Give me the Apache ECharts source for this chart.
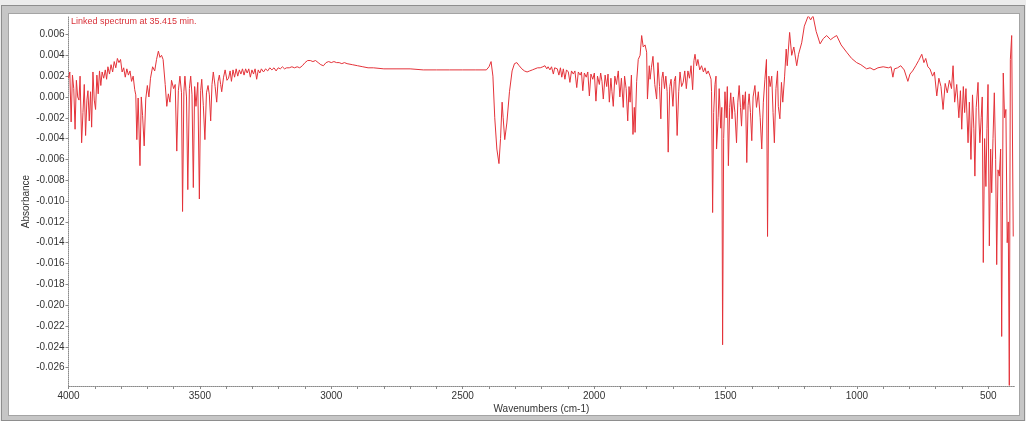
<!DOCTYPE html>
<html>
<head>
<meta charset="utf-8">
<title>Linked spectrum at 35.415 min.</title>
<script src="https://cdn.jsdelivr.net/npm/echarts@6/dist/echarts.min.js"></script>
<style>
  html, body { margin: 0; padding: 0; width: 1026px; height: 421px; overflow: hidden; background: #ececec; }
  #frame { position: absolute; left: 1px; top: 5px; width: 1022px; height: 414px; background: #c6c6c6; border: 1px solid #8e8e8e; }
  #panel { position: absolute; left: 8px; top: 13px; width: 1010px; height: 401px; background: #fff; border: 1px solid #a4a4a4; }
  #chart { position: absolute; left: 0; top: 0; width: 1026px; height: 421px; }
</style>
</head>
<body>
<div id="frame"></div>
<div id="panel"></div>
<div id="chart"></div>
<script>
// Axis ticks and labels
const yTicks = [-0.026, -0.024, -0.022, -0.020, -0.018, -0.016, -0.014, -0.012, -0.010, -0.008, -0.006, -0.004, -0.002, 0.000, 0.002, 0.004, 0.006];
const xTicks = [4000, 3500, 3000, 2500, 2000, 1500, 1000, 500];
const xMinorTicks = [4000, 3900, 3800, 3700, 3600, 3500, 3400, 3300, 3200, 3100, 3000, 2900, 2800, 2700, 2600, 2500, 2400, 2300, 2200, 2100, 2000, 1900, 1800, 1700, 1600, 1500, 1400, 1300, 1200, 1100, 1000, 900, 800, 700, 600, 500];

// Spectrum: wavenumbers (cm-1) and absorbance
const wavenumbers = [
  4000, 3995, 3990, 3985, 3980, 3975, 3970, 3965, 3960, 3956, 3950, 3945, 3940, 3935, 3930, 3926, 3921, 3916, 3912, 3907,
  3902, 3897, 3892, 3887, 3882, 3877, 3872, 3866, 3860, 3855, 3850, 3844, 3838, 3832, 3826, 3820, 3814, 3808, 3802, 3796,
  3790, 3784, 3778, 3772, 3766, 3760, 3754, 3748, 3744, 3740, 3735, 3728, 3723, 3718, 3712, 3706, 3700, 3694, 3688, 3680,
  3672, 3665, 3658, 3652, 3646, 3640, 3632, 3626, 3620, 3614, 3608, 3600, 3594, 3588, 3582, 3576, 3570, 3566, 3561, 3557,
  3551, 3546, 3540, 3535, 3530, 3525, 3520, 3515, 3508, 3502, 3497, 3493, 3487, 3481, 3475, 3469, 3464, 3459, 3454, 3449,
  3442, 3436, 3431, 3426, 3421, 3417, 3410, 3404, 3397, 3391, 3385, 3380, 3374, 3368, 3362, 3356, 3350, 3344, 3338, 3332,
  3326, 3320, 3314, 3308, 3302, 3296, 3290, 3284, 3278, 3272, 3266, 3258, 3250, 3242, 3234, 3226, 3218, 3210, 3202, 3194,
  3186, 3178, 3170, 3160, 3150, 3140, 3130, 3120, 3110, 3100, 3090, 3080, 3070, 3060, 3050, 3040, 3030, 3020, 3010, 3000,
  2990, 2980, 2970, 2960, 2950, 2940, 2920, 2900, 2880, 2860, 2840, 2800, 2750, 2700, 2650, 2600, 2550, 2500, 2450, 2410,
  2400, 2392, 2385, 2378, 2370, 2362, 2356, 2350, 2346, 2340, 2332, 2322, 2312, 2303, 2294, 2285, 2275, 2265, 2255, 2245,
  2235, 2225, 2215, 2205, 2195, 2187, 2180, 2175, 2168, 2162, 2155, 2150, 2140, 2134, 2128, 2123, 2117, 2111, 2105, 2098,
  2092, 2086, 2079, 2073, 2066, 2060, 2053, 2048, 2043, 2037, 2030, 2024, 2018, 2012, 2005, 1999, 1993, 1987, 1980, 1975,
  1970, 1965, 1958, 1952, 1947, 1942, 1936, 1932, 1927, 1921, 1915, 1908, 1902, 1896, 1889, 1884, 1878, 1872, 1867, 1863,
  1858, 1852, 1847, 1844, 1838, 1832, 1825, 1819, 1813, 1806, 1800, 1797, 1790, 1787, 1782, 1776, 1769, 1762, 1757, 1751,
  1746, 1742, 1738, 1732, 1727, 1722, 1718, 1712, 1707, 1700, 1695, 1690, 1684, 1678, 1673, 1667, 1661, 1655, 1649, 1643,
  1637, 1631, 1625, 1620, 1616, 1610, 1605, 1598, 1591, 1584, 1578, 1572, 1566, 1560, 1555, 1553, 1549, 1545, 1540, 1536,
  1534, 1528, 1524, 1518, 1514, 1511, 1507, 1502, 1497, 1493, 1489, 1484, 1480, 1475, 1470, 1464, 1458, 1453, 1448, 1443,
  1439, 1434, 1430, 1424, 1419, 1414, 1410, 1405, 1400, 1395, 1388, 1382, 1375, 1368, 1362, 1356, 1350, 1344, 1340, 1335,
  1330, 1324, 1319, 1314, 1308, 1302, 1299, 1293, 1287, 1282, 1275, 1269, 1265, 1256, 1248, 1240, 1229, 1222, 1210, 1200,
  1185, 1176, 1167, 1155, 1140, 1128, 1115, 1100, 1090, 1077, 1060, 1039, 1020, 1001, 985, 963, 950, 935, 920, 900,
  880, 870, 863, 857, 845, 833, 820, 806, 798, 788, 776, 765, 753, 745, 738, 730, 722, 712, 705, 696,
  688, 680, 672, 664, 656, 648, 640, 634, 628, 620, 612, 606, 601, 595, 590, 585, 577, 572, 566, 560,
  555, 551, 546, 539, 535, 532, 527, 523, 519, 514, 509, 505, 501, 496, 491, 487, 482, 477, 472, 468,
  463, 458, 453, 449, 446, 443, 438, 433, 428, 424, 420, 416, 411, 405
];
const absorbance = [
  0.0018, 0.0024, -0.0024, 0.0021, 0.0008, -0.0031, 0.0016, 0.0000, -0.0003, 0.0020, -0.0044, -0.0015, 0.0012, -0.0037, -0.0003, 0.0006, -0.0023, 0.0005, -0.0029, 0.0024,
  -0.0003, -0.0012, 0.0021, 0.0003, 0.0025, 0.0011, 0.0024, 0.0018, 0.0026, 0.0017, 0.0029, 0.0022, 0.0031, 0.0024, 0.0034, 0.0028, 0.0037, 0.0033, 0.0036, 0.0024,
  0.0028, 0.0019, 0.0027, 0.0021, 0.0025, 0.0015, 0.0020, 0.0007, 0.0002, -0.0041, -0.0001, -0.0066, 0.0000, -0.0018, -0.0047, -0.0002, 0.0011, 0.0000, 0.0018, 0.0029,
  0.0025, 0.0036, 0.0044, 0.0038, 0.0040, 0.0036, 0.0012, -0.0009, 0.0003, -0.0005, 0.0016, 0.0008, 0.0012, -0.0052, 0.0006, 0.0020, 0.0004, -0.0110, 0.0005, 0.0020,
  0.0000, -0.0089, 0.0008, 0.0020, 0.0002, -0.0087, 0.0010, -0.0009, 0.0014, -0.0098, 0.0006, 0.0017, -0.0008, -0.0041, 0.0004, 0.0011, 0.0002, -0.0023, 0.0012, 0.0024,
  0.0010, -0.0005, 0.0015, 0.0021, 0.0012, 0.0005, 0.0019, 0.0026, 0.0016, 0.0018, 0.0025, 0.0015, 0.0026, 0.0019, 0.0027, 0.0020, 0.0026, 0.0022, 0.0027, 0.0021,
  0.0027, 0.0023, 0.0027, 0.0019, 0.0026, 0.0022, 0.0027, 0.0017, 0.0026, 0.0023, 0.0027, 0.0024, 0.0027, 0.0025, 0.0028, 0.0026, 0.0028, 0.0025, 0.0028, 0.0027,
  0.0029, 0.0027, 0.0028, 0.0028, 0.0029, 0.0028, 0.0029, 0.0028, 0.0030, 0.0033, 0.0035, 0.0035, 0.0034, 0.0035, 0.0033, 0.0031, 0.0030, 0.0033, 0.0034, 0.0033,
  0.0034, 0.0033, 0.0033, 0.0032, 0.0033, 0.0032, 0.0031, 0.0030, 0.0029, 0.0028, 0.0028, 0.0027, 0.0027, 0.0027, 0.0026, 0.0026, 0.0026, 0.0026, 0.0026, 0.0026,
  0.0029, 0.0034, 0.0020, -0.0020, -0.0050, -0.0064, -0.0040, -0.0005, -0.0020, -0.0041, -0.0025, 0.0005, 0.0025, 0.0032, 0.0033, 0.0030, 0.0027, 0.0025, 0.0024, 0.0025,
  0.0026, 0.0027, 0.0028, 0.0028, 0.0029, 0.0030, 0.0027, 0.0029, 0.0026, 0.0029, 0.0022, 0.0028, 0.0027, 0.0021, 0.0028, 0.0019, 0.0027, 0.0017, 0.0026, 0.0024,
  0.0014, 0.0025, 0.0022, 0.0025, 0.0009, 0.0024, 0.0021, 0.0024, 0.0006, 0.0023, 0.0019, 0.0024, 0.0001, 0.0022, 0.0017, 0.0023, -0.0004, 0.0020, 0.0012, 0.0023,
  0.0015, -0.0002, 0.0021, 0.0010, 0.0022, -0.0005, 0.0018, 0.0005, -0.0009, 0.0020, 0.0012, 0.0025, 0.0000, 0.0018, -0.0010, 0.0020, 0.0008, -0.0023, 0.0010, -0.0005,
  0.0021, -0.0036, -0.0010, -0.0034, 0.0015, 0.0036, 0.0040, 0.0059, 0.0048, 0.0050, 0.0043, -0.0002, 0.0030, 0.0017, 0.0028, 0.0039, 0.0012, -0.0002, 0.0033, 0.0010,
  -0.0021, 0.0018, 0.0024, 0.0008, 0.0020, 0.0005, -0.0053, 0.0010, 0.0017, -0.0009, 0.0015, 0.0020, -0.0037, 0.0005, 0.0024, 0.0010, 0.0014, 0.0025, 0.0008, 0.0025,
  0.0018, 0.0030, 0.0007, 0.0035, 0.0041, 0.0030, 0.0036, 0.0026, 0.0030, 0.0024, 0.0028, 0.0022, 0.0025, 0.0021, 0.0017, 0.0005, -0.0111, -0.0015, 0.0012, 0.0020,
  -0.0050, -0.0020, 0.0008, -0.0030, -0.0010, -0.0238, -0.0040, 0.0005, -0.0020, 0.0010, -0.0066, -0.0010, 0.0004, -0.0021, 0.0000, -0.0015, -0.0044, -0.0005, 0.0011, -0.0010,
  -0.0028, 0.0002, -0.0012, 0.0005, -0.0063, -0.0008, 0.0003, -0.0015, -0.0042, 0.0000, 0.0011, -0.0010, 0.0005, -0.0020, -0.0050, -0.0005, 0.0017, 0.0036, -0.0134, 0.0020,
  0.0010, 0.0020, -0.0015, -0.0044, 0.0008, 0.0025, -0.0009, -0.0021, 0.0014, -0.0005, 0.0020, 0.0046, 0.0030, 0.0062, 0.0040, 0.0048, 0.0030, 0.0041, 0.0052, 0.0068,
  0.0078, 0.0074, 0.0078, 0.0063, 0.0051, 0.0056, 0.0059, 0.0055, 0.0057, 0.0059, 0.0050, 0.0043, 0.0037, 0.0033, 0.0031, 0.0027, 0.0028, 0.0026, 0.0028, 0.0029,
  0.0028, 0.0029, 0.0019, 0.0027, 0.0028, 0.0030, 0.0026, 0.0015, 0.0022, 0.0025, 0.0030, 0.0035, 0.0041, 0.0033, 0.0037, 0.0029, 0.0027, 0.0020, 0.0024, 0.0001,
  0.0018, 0.0010, -0.0012, 0.0013, 0.0004, 0.0016, 0.0008, 0.0030, -0.0005, 0.0012, -0.0020, 0.0006, -0.0031, 0.0010, -0.0015, 0.0008, -0.0044, -0.0005, -0.0060, 0.0002,
  -0.0030, -0.0076, -0.0010, 0.0014, -0.0025, -0.0044, -0.0020, 0.0000, -0.0159, -0.0040, -0.0086, -0.0030, 0.0012, -0.0143, -0.0050, -0.0092, -0.0040, 0.0004, -0.0060, -0.0161,
  -0.0070, -0.0076, -0.0050, -0.0230, -0.0100, 0.0023, -0.0020, -0.0012, -0.0140, -0.0120, -0.0277, 0.0036, 0.0059, -0.0134
];

const points = wavenumbers.map((w, i) => [w, absorbance[i]]);

const chart = echarts.init(document.getElementById('chart'), null, { renderer: 'canvas' });
const axisGrey = '#8a8a8a';
const labelStyle = { color: '#333', fontSize: 10, fontFamily: 'Liberation Sans, Arial, sans-serif' };

chart.setOption({
  animation: false,
  backgroundColor: 'transparent',
  title: {
    text: 'Linked spectrum at 35.415 min.',
    left: 66,
    top: 12,
    textStyle: { color: '#d8323a', fontSize: 9, fontWeight: 'normal', fontFamily: 'Liberation Sans, Arial, sans-serif' }
  },
  grid: { left: 68.5, right: 11.7, top: 17, bottom: 35, containLabel: false },
  xAxis: {
    type: 'value',
    inverse: true,
    min: 401,
    max: 4000,
    name: 'Wavenumbers (cm-1)',
    nameLocation: 'middle',
    nameGap: 18,
    nameMoveOverlap: false,
    nameTextStyle: labelStyle,
    axisLine: { show: true, onZero: false, lineStyle: { color: axisGrey, width: 1, type: [1, 1] } },
    axisTick: { show: true, length: 3, lineStyle: { color: axisGrey }, customValues: xMinorTicks },
    axisLabel: { ...labelStyle, margin: 5, customValues: xTicks, formatter: v => String(v) },
    splitLine: { show: false }
  },
  yAxis: {
    type: 'value',
    min: -0.02776,
    max: 0.00768,
    name: 'Absorbance',
    nameLocation: 'middle',
    nameGap: 37,
    nameMoveOverlap: false,
    nameTextStyle: labelStyle,
    axisLine: { show: true, onZero: false, lineStyle: { color: axisGrey, width: 1, type: [1, 1] } },
    axisTick: { show: true, length: 3, lineStyle: { color: axisGrey }, customValues: yTicks },
    axisLabel: { ...labelStyle, margin: 4, customValues: yTicks, formatter: v => (Math.abs(v) < 1e-9 ? 0 : v).toFixed(3) },
    splitLine: { show: false }
  },
  series: [{
    type: 'line',
    data: points,
    showSymbol: false,
    symbol: 'none',
    lineStyle: { color: '#e4333a', width: 1 },
    clip: true
  }]
});
</script>
</body>
</html>
